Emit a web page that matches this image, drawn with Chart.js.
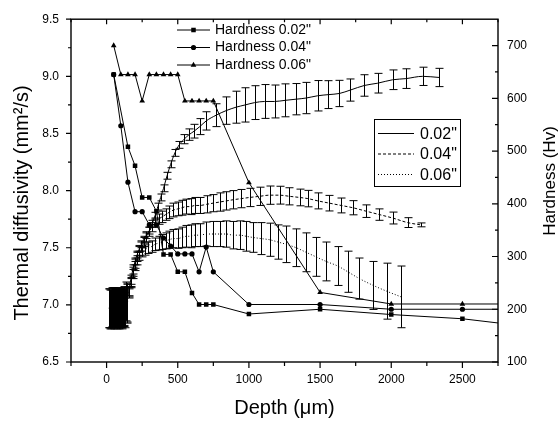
<!DOCTYPE html>
<html>
<head>
<meta charset="utf-8">
<script src="https://cdn.jsdelivr.net/npm/chart.js"></script>
<style>
  html, body { margin: 0; padding: 0; background: #fff; }
  #wrap { width: 559px; height: 422px; }
</style>
</head>
<body>
<div id="wrap"><canvas id="chart" width="559" height="422"></canvas></div>
<script>
// thermal diffusivity (mm2/s) vs depth (um), with error bars
const depth02 = [15, 30, 45, 60, 75, 90, 105, 120, 135, 155, 170, 185, 200, 215, 230, 245, 260,
  280, 300, 320, 340, 360, 380, 400, 425, 450, 480, 510, 545, 580, 615, 655, 700,
  770, 840, 910, 975, 1040, 1110, 1180, 1255, 1332, 1402, 1483, 1559, 1636, 1713,
  1811, 1905, 2010, 2103, 2220, 2337];
const diff02 = [6.97, 6.96, 6.98, 6.97, 6.96, 6.98, 6.97, 6.99, 7.03, 7.12, 7.22, 7.31, 7.38, 7.44, 7.49, 7.53, 7.57,
  7.61, 7.65, 7.71, 7.78, 7.86, 7.94, 8.02, 8.13, 8.23, 8.33, 8.40, 8.45, 8.49, 8.52, 8.56, 8.61,
  8.66, 8.70, 8.73, 8.75, 8.77, 8.78, 8.78, 8.79, 8.80, 8.81, 8.83, 8.84, 8.85, 8.88,
  8.92, 8.94, 8.97, 8.98, 9.00, 8.99];
const err02 = [0.17, 0.17, 0.17, 0.17, 0.17, 0.17, 0.17, 0.17, 0.17, 0.04, 0.04, 0.04, 0.03, 0.03, 0.03, 0.03, 0.03,
  0.03, 0.03, 0.03, 0.03, 0.03, 0.03, 0.03, 0.03, 0.03, 0.03, 0.03, 0.04, 0.05, 0.06, 0.07, 0.08,
  0.10, 0.12, 0.14, 0.15, 0.148, 0.148, 0.144, 0.144, 0.137, 0.137, 0.133, 0.122, 0.115, 0.097,
  0.094, 0.086, 0.086, 0.086, 0.08, 0.08];

const depth04 = [20, 35, 50, 65, 80, 95, 110, 125, 140, 155, 170, 185, 200, 215, 230, 245, 260,
  280, 300, 316, 340, 365, 390, 415, 440, 470, 500, 530, 560, 590, 620,
  656, 703, 748, 795, 842, 889, 947, 1005, 1075, 1145, 1215, 1285, 1356, 1414, 1484, 1566, 1648, 1730,
  1823, 1917, 2010, 2115, 2208];
const diff04 = [6.97, 6.98, 6.96, 6.97, 6.98, 6.97, 6.96, 6.98, 7.02, 7.11, 7.20, 7.29, 7.36, 7.42, 7.47, 7.51, 7.55,
  7.59, 7.64, 7.68, 7.72, 7.75, 7.77, 7.79, 7.81, 7.83, 7.84, 7.85, 7.86, 7.86, 7.87,
  7.87, 7.88, 7.89, 7.90, 7.91, 7.92, 7.93, 7.94, 7.95, 7.96, 7.96, 7.95, 7.94, 7.93, 7.91, 7.89, 7.87, 7.85,
  7.82, 7.79, 7.76, 7.72, 7.70];
const err04 = [0.17, 0.17, 0.17, 0.17, 0.17, 0.17, 0.17, 0.17, 0.17, 0.04, 0.04, 0.04, 0.04, 0.04, 0.04, 0.04, 0.04,
  0.04, 0.04, 0.04, 0.04, 0.045, 0.05, 0.05, 0.055, 0.06, 0.06, 0.065, 0.065, 0.07, 0.07,
  0.07, 0.075, 0.075, 0.08, 0.08, 0.08, 0.08, 0.08, 0.08, 0.08, 0.078, 0.075, 0.073, 0.072, 0.07, 0.068, 0.065, 0.062,
  0.055, 0.05, 0.052, 0.043, 0.017];

const depth06 = [25, 40, 55, 70, 85, 100, 115, 130, 145, 155, 170, 185, 200, 215, 230,
  250, 270, 290, 316, 340, 365, 390, 415, 440, 470, 500, 530, 560, 590, 620,
  654, 701, 748, 795, 842, 889, 935, 982, 1028, 1087, 1145, 1204, 1262, 1332, 1402, 1472, 1543, 1624,
  1694, 1776, 1874, 1967, 2069];
const diff06 = [6.96, 6.97, 6.98, 6.97, 6.96, 6.97, 6.98, 6.97, 7.01, 7.10, 7.19, 7.27, 7.34, 7.39, 7.43,
  7.46, 7.48, 7.50, 7.51, 7.53, 7.54, 7.55, 7.56, 7.57, 7.58, 7.58, 7.59, 7.60, 7.60, 7.61,
  7.61, 7.62, 7.62, 7.62, 7.62, 7.61, 7.61, 7.60, 7.59, 7.58, 7.57, 7.55, 7.53, 7.50, 7.46, 7.42, 7.38, 7.34,
  7.29, 7.23, 7.17, 7.12, 7.07];
const err06 = [0.17, 0.17, 0.17, 0.17, 0.17, 0.17, 0.17, 0.17, 0.17, 0.04, 0.04, 0.04, 0.04, 0.04, 0.04,
  0.04, 0.045, 0.05, 0.05, 0.055, 0.06, 0.065, 0.07, 0.075, 0.08, 0.085, 0.09, 0.095, 0.1, 0.1,
  0.1, 0.105, 0.11, 0.11, 0.115, 0.12, 0.125, 0.13, 0.13, 0.14, 0.145, 0.15, 0.16, 0.165, 0.17, 0.17, 0.17, 0.17,
  0.18, 0.18, 0.21, 0.245, 0.27];

// hardness (Hv) vs depth (um)
const hardDepth02 = [50, 150, 200, 250, 300, 350, 400, 450, 500, 550, 600, 650, 700, 750, 1000, 1500, 2000, 2500, 3000];
const hard02 = [645, 508, 472, 412, 412, 386, 304, 304, 271, 271, 231, 209, 209, 209, 191, 200, 190, 182, 166];
const hardDepth = [50, 100, 150, 200, 250, 300, 350, 400, 450, 500, 550, 600, 650, 700, 750, 1000, 1500, 2000, 2500, 3000];
const hard04 = [645, 548, 441, 385, 385, 360, 360, 335, 320, 305, 305, 305, 271, 318, 271, 209, 209, 200, 200, 200];
const hard06 = [700, 645, 645, 645, 595, 645, 645, 645, 645, 645, 595, 595, 595, 595, 595, 440, 232, 210, 210, 210];

const diffLabels = ['0.02"', '0.04"', '0.06"'];
const hardLabels = ['Hardness 0.02"', 'Hardness 0.04"', 'Hardness 0.06"'];

// axes
const xTickLabels = [0, 500, 1000, 1500, 2000, 2500];
const xMinorTicks = [-250, 250, 750, 1250, 1750, 2250, 2750];
const leftTickLabels = [6.5, 7.0, 7.5, 8.0, 8.5, 9.0, 9.5];
const leftMinorTicks = [6.75, 7.25, 7.75, 8.25, 8.75, 9.25];
const rightTickLabels = [100, 200, 300, 400, 500, 600, 700];
const rightMinorTicks = [150, 250, 350, 450, 550, 650];

const FONT = '"Liberation Sans", Arial, sans-serif';

function pts(xs, ys) {
  return xs.map((x, i) => ({ x: x, y: ys[i] }));
}

function line(ctx, x1, y1, x2, y2) {
  ctx.moveTo(x1, y1);
  ctx.lineTo(x2, y2);
}

function marker(ctx, style, cx, cy, r) {
  ctx.beginPath();
  if (style === 'rect') {
    const s = r * Math.SQRT1_2;
    ctx.rect(cx - s, cy - s, 2 * s, 2 * s);
  } else if (style === 'circle') {
    ctx.arc(cx, cy, r, 0, Math.PI * 2);
  } else {
    const a = Math.PI * 2 / 3;
    ctx.moveTo(cx, cy - r);
    ctx.lineTo(cx + r * Math.sin(a), cy - r * Math.cos(a));
    ctx.lineTo(cx - r * Math.sin(a), cy - r * Math.cos(a));
    ctx.closePath();
  }
  ctx.fill();
}

const diffStyles = [[], [3, 2], [1, 2]];
const hardStyles = [['rect', 3.2], ['circle', 2.6], ['triangle', 3.3]];

// error bars, frame, ticks, titles and the two legends
const decor = {
  id: 'decor',
  afterDatasetsDraw(chart) {
    const ctx = chart.ctx;
    const xs = chart.scales.x, ys = chart.scales.y;
    ctx.save();
    ctx.strokeStyle = '#000';
    ctx.lineWidth = 1;
    [[depth02, diff02, err02], [depth04, diff04, err04], [depth06, diff06, err06]].forEach(s => {
      ctx.beginPath();
      s[0].forEach((d, i) => {
        const px = Math.round(xs.getPixelForValue(d)) + 0.5;
        const top = ys.getPixelForValue(s[1][i] + s[2][i]);
        const bot = ys.getPixelForValue(s[1][i] - s[2][i]);
        line(ctx, px, top, px, bot);
        line(ctx, px - 4, top, px + 4, top);
        line(ctx, px - 4, bot, px + 4, bot);
      });
      ctx.stroke();
    });
    ctx.restore();
  },
  afterDraw(chart) {
    const ctx = chart.ctx;
    const a = chart.chartArea;
    const xs = chart.scales.x, ys = chart.scales.y, y2 = chart.scales.y2;
    ctx.save();
    ctx.strokeStyle = '#000';
    ctx.fillStyle = '#000';

    // frame
    ctx.lineWidth = 1.4;
    ctx.strokeRect(a.left, a.top, a.right - a.left, a.bottom - a.top);

    // tick marks
    ctx.lineWidth = 1.2;
    ctx.beginPath();
    xTickLabels.forEach(v => {
      const p = xs.getPixelForValue(v);
      line(ctx, p, a.bottom, p, a.bottom + 6);
      line(ctx, p, a.top, p, a.top + 5);
    });
    xMinorTicks.forEach(v => {
      const p = xs.getPixelForValue(v);
      line(ctx, p, a.bottom, p, a.bottom + 4);
      line(ctx, p, a.top, p, a.top + 3);
    });
    leftTickLabels.forEach(v => {
      const p = ys.getPixelForValue(v);
      line(ctx, a.left - 5, p, a.left, p);
    });
    leftMinorTicks.forEach(v => {
      const p = ys.getPixelForValue(v);
      line(ctx, a.left - 3, p, a.left, p);
    });
    rightTickLabels.forEach(v => {
      const p = y2.getPixelForValue(v);
      line(ctx, a.right - 6, p, a.right, p);
    });
    rightMinorTicks.forEach(v => {
      const p = y2.getPixelForValue(v);
      line(ctx, a.right - 3, p, a.right, p);
    });
    ctx.stroke();

    // axis titles
    ctx.textAlign = 'center';
    ctx.textBaseline = 'middle';
    ctx.font = '20px ' + FONT;
    ctx.fillText('Depth (\u03bcm)', (a.left + a.right) / 2, 408);
    ctx.save();
    ctx.translate(22, 203);
    ctx.rotate(-Math.PI / 2);
    ctx.fillText('Thermal diffusivity (mm\u00b2/s)', 0, 0);
    ctx.restore();
    ctx.save();
    ctx.font = '17px ' + FONT;
    ctx.translate(550, 181);
    ctx.rotate(-Math.PI / 2);
    ctx.fillText('Hardness (Hv)', 0, 0);
    ctx.restore();

    // hardness legend
    ctx.textAlign = 'left';
    ctx.font = '14px ' + FONT;
    ctx.lineWidth = 1;
    hardLabels.forEach((t, i) => {
      const yy = 30 + i * 17.5;
      ctx.beginPath();
      line(ctx, 177, yy, 210, yy);
      ctx.stroke();
      marker(ctx, hardStyles[i][0], 193.5, yy, hardStyles[i][1]);
      ctx.fillText(t, 215, yy);
    });

    // diffusivity legend
    ctx.strokeRect(374.5, 119.5, 86, 67);
    ctx.font = '16px ' + FONT;
    diffLabels.forEach((t, i) => {
      const yy = 133.5 + i * 20.5;
      ctx.beginPath();
      ctx.setLineDash(diffStyles[i]);
      line(ctx, 378, yy, 414, yy);
      ctx.stroke();
      ctx.setLineDash([]);
      ctx.fillText(t, 420, yy + 1);
    });
    ctx.restore();
  }
};

const tickFont = { family: FONT, size: 12 };

const datasets = [
  [depth02, diff02], [depth04, diff04], [depth06, diff06]
].map((s, i) => ({
  data: pts(s[0], s[1]),
  yAxisID: 'y',
  borderColor: '#000',
  borderWidth: 1,
  borderDash: diffStyles[i],
  pointRadius: 0,
  cubicInterpolationMode: 'monotone',
  fill: false
})).concat([
  [hardDepth02, hard02], [hardDepth, hard04], [hardDepth, hard06]
].map((s, i) => ({
  data: pts(s[0], s[1]),
  yAxisID: 'y2',
  borderColor: '#000',
  borderWidth: 1,
  pointStyle: hardStyles[i][0],
  pointRadius: hardStyles[i][1],
  pointBackgroundColor: '#000',
  pointBorderWidth: 0,
  fill: false
})));

new Chart(document.getElementById('chart'), {
  type: 'line',
  data: { datasets: datasets },
  options: {
    responsive: false,
    animation: false,
    layout: { padding: { top: 15, left: 0, right: 0, bottom: 0 } },
    plugins: { legend: { display: false }, tooltip: { enabled: false } },
    scales: {
      x: {
        type: 'linear', min: -250, max: 2750,
        grid: { display: false, drawTicks: false },
        border: { display: false },
        ticks: { font: tickFont, color: '#000', padding: 10, autoSkip: false, maxRotation: 0, callback: v => String(v) },
        afterBuildTicks: s => { s.ticks = xTickLabels.map(v => ({ value: v })); },
        afterFit: s => { s.height = 60; }
      },
      y: {
        type: 'linear', position: 'left', min: 6.5, max: 9.5,
        grid: { display: false, drawTicks: false },
        border: { display: false },
        ticks: { font: tickFont, color: '#000', padding: 12, autoSkip: false, callback: v => v.toFixed(1) },
        afterBuildTicks: s => { s.ticks = leftTickLabels.map(v => ({ value: v })); },
        afterFit: s => { s.width = 71; }
      },
      y2: {
        type: 'linear', position: 'right', min: 100, max: 750,
        grid: { display: false, drawTicks: false },
        border: { display: false },
        ticks: { font: tickFont, color: '#000', padding: 9, autoSkip: false, callback: v => String(v) },
        afterBuildTicks: s => { s.ticks = rightTickLabels.map(v => ({ value: v })); },
        afterFit: s => { s.width = 61; }
      }
    }
  },
  plugins: [decor]
});
</script>
</body>
</html>
